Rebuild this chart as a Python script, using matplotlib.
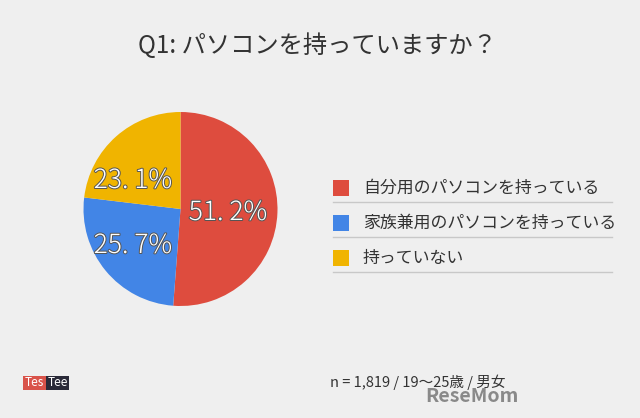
import matplotlib
matplotlib.use("Agg")
import matplotlib.pyplot as plt
import matplotlib.patheffects as pe
from matplotlib.patches import Rectangle

plt.rcParams['font.family'] = ['Noto Sans CJK JP', 'DejaVu Sans']

title = "Q1: パソコンを持っていますか？"
categories = ["自分用のパソコンを持っている", "家族兼用のパソコンを持っている", "持っていない"]
values = [51.2, 25.7, 23.1]
labels = ["51. 2%", "25. 7%", "23. 1%"]
colors = ["#de4c3e", "#4285e6", "#f0b400"]
note = "n = 1,819 / 19～25歳 / 男女"

W, H = 640, 418
bg = "#efefef"
fig = plt.figure(figsize=(W/100, H/100), dpi=100, facecolor=bg)

# pie axes: center (180,209), radius 97
r = 97
cx, cy = 180.5, 209
ax = fig.add_axes([(cx - r)/W, 1 - (cy + r)/H, 2*r/W, 2*r/H])
ax.set_facecolor(bg)
wedges, texts = ax.pie(values, colors=colors, startangle=90, counterclock=False,
                       radius=1.0, wedgeprops=dict(linewidth=0))
ax.set_xlim(-1, 1); ax.set_ylim(-1, 1)
ax.set_aspect('equal')
ax.axis('off')

label_pos = [(228, 212), (133, 245), (133, 180)]
for (px, py), t in zip(label_pos, labels):
    fig.text(px/W, 1 - py/H, t, ha='center', va='center', fontsize=19,
             color='white', fontweight='light',
             path_effects=[pe.withStroke(linewidth=1.4, foreground='#555555')])

fig.text(317/W, 1 - 46/H, title, ha='center', va='center', fontsize=17.5, color='#333333')

# legend
rows_y = [188, 223, 258]
for y, c, cat in zip(rows_y, colors, categories):
    fig.patches.append(Rectangle((333/W, 1 - (y + 8)/H), 16/W, 16/H,
                                 transform=fig.transFigure, facecolor=c, edgecolor='none'))
    fig.text(363/W, 1 - y/H, cat, ha='left', va='center', fontsize=12.2, color='#333333')
    fig.add_artist(plt.Line2D([333/W, 612/W], [1 - (y + 14)/H, 1 - (y + 14)/H],
                              color='#c8c8c8', linewidth=1.0, transform=fig.transFigure))

# TesTee logo
fig.patches.append(Rectangle((23/W, 1 - 390/H), 23/W, 14/H, transform=fig.transFigure,
                             facecolor='#d9534a', edgecolor='none'))
fig.patches.append(Rectangle((46/W, 1 - 390/H), 23/W, 14/H, transform=fig.transFigure,
                             facecolor='#2a2a38', edgecolor='none'))
fig.text(34.5/W, 1 - 383/H, "Tes", ha='center', va='center', fontsize=8.5, color='white')
fig.text(57.5/W, 1 - 383/H, "Tee", ha='center', va='center', fontsize=8.5, color='white')

fig.text(505/W, 1 - 382/H, note, ha='right', va='center', fontsize=10.5, color='#333333')
fig.text(472/W, 1 - 397/H, "ReseMom", ha='center', va='center', fontsize=14,
         color='#777777', fontweight='bold', alpha=0.85)

fig.savefig("out.png", dpi=100, facecolor=bg)
